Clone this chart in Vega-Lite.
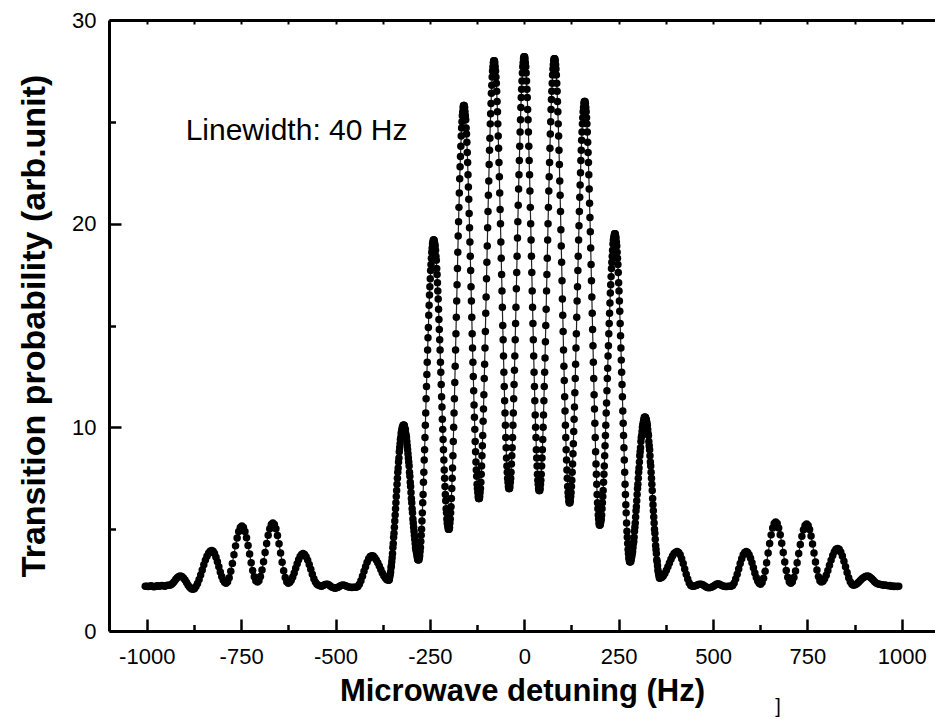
{
"$schema":"https://vega.github.io/schema/vega-lite/v6.json",
"width":826,"height":611,
"autosize":{"type":"none"},
"padding":{"left":109,"top":20,"right":0,"bottom":89},
"background":"white",
"config":{"view":{"stroke":null},"axis":{"grid":false,"domainColor":"black","tickColor":"black","labelColor":"black","titleColor":"black","labelFont":"Liberation Sans","titleFont":"Liberation Sans"}},
"data":{"values":[
{"x":-1004,"y":2.2},{"x":-1000,"y":2.2},{"x":-996,"y":2.18},{"x":-992,"y":2.2},{"x":-988,"y":2.22},{"x":-984,"y":2.19},{"x":-980,"y":2.17},{"x":-976,"y":2.2},{"x":-972,"y":2.22},{"x":-968,"y":2.2},{"x":-964,"y":2.21},{"x":-960,"y":2.24},{"x":-956,"y":2.22},{"x":-952,"y":2.2},{"x":-948,"y":2.23},{"x":-944,"y":2.25},
{"x":-940,"y":2.25},{"x":-935.9,"y":2.27},{"x":-931.7,"y":2.33},{"x":-927.6,"y":2.42},{"x":-923.4,"y":2.53},{"x":-919.3,"y":2.62},{"x":-915.1,"y":2.68},{"x":-911,"y":2.7},
{"x":-906.9,"y":2.68},{"x":-902.8,"y":2.6},{"x":-898.6,"y":2.5},{"x":-894.5,"y":2.38},{"x":-890.4,"y":2.25},{"x":-886.3,"y":2.15},{"x":-882.1,"y":2.08},{"x":-878,"y":2.05},
{"x":-873.8,"y":2.08},{"x":-869.7,"y":2.18},{"x":-865.5,"y":2.33},{"x":-861.3,"y":2.53},{"x":-857.2,"y":2.75},{"x":-853,"y":3.0},{"x":-848.8,"y":3.25},{"x":-844.7,"y":3.48},{"x":-840.5,"y":3.67},{"x":-836.3,"y":3.82},{"x":-832.2,"y":3.92},{"x":-828,"y":3.95},
{"x":-824.2,"y":3.91},{"x":-820.4,"y":3.8},{"x":-816.6,"y":3.62},{"x":-812.8,"y":3.4},{"x":-809,"y":3.15},{"x":-805.2,"y":2.9},{"x":-801.4,"y":2.68},{"x":-797.6,"y":2.5},{"x":-793.8,"y":2.39},{"x":-790,"y":2.35},
{"x":-785.8,"y":2.42},{"x":-781.6,"y":2.62},{"x":-777.4,"y":2.93},{"x":-773.2,"y":3.32},{"x":-769,"y":3.75},{"x":-764.8,"y":4.18},{"x":-760.6,"y":4.57},{"x":-756.4,"y":4.88},{"x":-752.2,"y":5.08},{"x":-748,"y":5.15},
{"x":-743.9,"y":5.08},{"x":-739.8,"y":4.89},{"x":-735.7,"y":4.58},{"x":-731.6,"y":4.2},{"x":-727.5,"y":3.78},{"x":-723.4,"y":3.35},{"x":-719.3,"y":2.97},{"x":-715.2,"y":2.66},{"x":-711.1,"y":2.47},{"x":-707,"y":2.4},
{"x":-702.9,"y":2.47},{"x":-698.8,"y":2.68},{"x":-694.7,"y":3.0},{"x":-690.6,"y":3.4},{"x":-686.5,"y":3.85},{"x":-682.4,"y":4.3},{"x":-678.3,"y":4.7},{"x":-674.2,"y":5.02},{"x":-670.1,"y":5.23},{"x":-666,"y":5.3},
{"x":-661.9,"y":5.23},{"x":-657.8,"y":5.02},{"x":-653.7,"y":4.69},{"x":-649.6,"y":4.28},{"x":-645.5,"y":3.83},{"x":-641.4,"y":3.37},{"x":-637.3,"y":2.96},{"x":-633.2,"y":2.63},{"x":-629.1,"y":2.42},{"x":-625,"y":2.35},
{"x":-621.1,"y":2.39},{"x":-617.2,"y":2.49},{"x":-613.3,"y":2.65},{"x":-609.4,"y":2.85},{"x":-605.5,"y":3.08},{"x":-601.6,"y":3.3},{"x":-597.7,"y":3.5},{"x":-593.8,"y":3.66},{"x":-589.9,"y":3.76},{"x":-586,"y":3.8},
{"x":-581.9,"y":3.76},{"x":-577.8,"y":3.65},{"x":-573.7,"y":3.48},{"x":-569.6,"y":3.26},{"x":-565.5,"y":3.03},{"x":-561.4,"y":2.79},{"x":-557.3,"y":2.57},{"x":-553.2,"y":2.4},{"x":-549.1,"y":2.29},{"x":-545,"y":2.25},
{"x":-541,"y":2.22},{"x":-537,"y":2.2},{"x":-533,"y":2.23},{"x":-529,"y":2.27},{"x":-525,"y":2.3},{"x":-521,"y":2.3},{"x":-517,"y":2.26},{"x":-513,"y":2.2},{"x":-509,"y":2.15},{"x":-505,"y":2.12},{"x":-501,"y":2.1},{"x":-497,"y":2.12},{"x":-493,"y":2.15},{"x":-489,"y":2.2},{"x":-485,"y":2.24},{"x":-481,"y":2.26},{"x":-477,"y":2.25},{"x":-473,"y":2.22},{"x":-469,"y":2.18},{"x":-465,"y":2.16},{"x":-461,"y":2.15},{"x":-457,"y":2.14},{"x":-453,"y":2.15},{"x":-449,"y":2.15},
{"x":-445,"y":2.15},{"x":-440.9,"y":2.19},{"x":-436.8,"y":2.3},{"x":-432.7,"y":2.47},{"x":-428.6,"y":2.69},{"x":-424.5,"y":2.93},{"x":-420.4,"y":3.16},{"x":-416.3,"y":3.38},{"x":-412.2,"y":3.55},{"x":-408.1,"y":3.66},{"x":-404,"y":3.7},
{"x":-400,"y":3.68},{"x":-396,"y":3.6},{"x":-392,"y":3.49},{"x":-388,"y":3.35},{"x":-384,"y":3.19},{"x":-380,"y":3.02},{"x":-376,"y":2.85},{"x":-372,"y":2.71},{"x":-368,"y":2.6},{"x":-364,"y":2.52},
{"x":-360,"y":2.5},{"x":-359,"y":2.5},{"x":-358,"y":2.5},{"x":-357,"y":2.6},{"x":-356,"y":2.7},{"x":-355,"y":2.8},{"x":-354,"y":2.9},{"x":-353,"y":3.1},{"x":-352,"y":3.2},{"x":-351,"y":3.4},{"x":-350,"y":3.6},{"x":-349,"y":3.8},{"x":-348,"y":4.1},{"x":-347,"y":4.3},{"x":-346,"y":4.6},{"x":-345,"y":4.8},{"x":-344,"y":5.1},{"x":-343,"y":5.4},{"x":-342,"y":5.7},{"x":-341,"y":6.0},{"x":-340,"y":6.3},{"x":-339,"y":6.6},{"x":-338,"y":6.9},{"x":-337,"y":7.2},{"x":-336,"y":7.5},{"x":-335,"y":7.8},{"x":-334,"y":8.0},{"x":-333,"y":8.3},{"x":-332,"y":8.5},{"x":-331,"y":8.8},{"x":-330,"y":9.0},{"x":-329,"y":9.2},{"x":-328,"y":9.4},{"x":-327,"y":9.5},{"x":-326,"y":9.7},{"x":-325,"y":9.8},{"x":-324,"y":9.9},{"x":-323,"y":10.0},{"x":-322,"y":10.0},{"x":-321,"y":10.1},{"x":-320,"y":10.1},
{"x":-319,"y":10.1},{"x":-318,"y":10.1},{"x":-317,"y":10.0},{"x":-316,"y":9.9},{"x":-315,"y":9.9},{"x":-314,"y":9.7},{"x":-313,"y":9.6},{"x":-312,"y":9.5},{"x":-311,"y":9.3},{"x":-310,"y":9.1},{"x":-309,"y":8.9},{"x":-308,"y":8.7},{"x":-307,"y":8.5},{"x":-306,"y":8.3},{"x":-305,"y":8.1},{"x":-304,"y":7.8},{"x":-303,"y":7.6},{"x":-302,"y":7.3},{"x":-301,"y":7.1},{"x":-300,"y":6.8},{"x":-299,"y":6.5},{"x":-298,"y":6.3},{"x":-297,"y":6.0},{"x":-296,"y":5.8},{"x":-295,"y":5.5},{"x":-294,"y":5.3},{"x":-293,"y":5.1},{"x":-292,"y":4.9},{"x":-291,"y":4.7},{"x":-290,"y":4.5},{"x":-289,"y":4.3},{"x":-288,"y":4.1},{"x":-287,"y":4.0},{"x":-286,"y":3.9},{"x":-285,"y":3.8},{"x":-284,"y":3.7},{"x":-283,"y":3.6},{"x":-282,"y":3.5},{"x":-281,"y":3.5},{"x":-280,"y":3.5},
{"x":-279,"y":3.5},{"x":-278,"y":3.6},{"x":-277,"y":3.7},{"x":-276,"y":3.9},{"x":-275,"y":4.1},{"x":-274,"y":4.4},{"x":-273,"y":4.7},{"x":-272,"y":5.0},{"x":-271,"y":5.4},{"x":-270,"y":5.8},{"x":-269,"y":6.3},{"x":-268,"y":6.7},{"x":-267,"y":7.3},{"x":-266,"y":7.8},{"x":-265,"y":8.4},{"x":-264,"y":8.9},{"x":-263,"y":9.5},{"x":-262,"y":10.1},{"x":-261,"y":10.7},{"x":-260,"y":11.4},{"x":-259,"y":12.0},{"x":-258,"y":12.6},{"x":-257,"y":13.2},{"x":-256,"y":13.8},{"x":-255,"y":14.4},{"x":-254,"y":14.9},{"x":-253,"y":15.5},{"x":-252,"y":16.0},{"x":-251,"y":16.5},{"x":-250,"y":16.9},{"x":-249,"y":17.3},{"x":-248,"y":17.7},{"x":-247,"y":18.0},{"x":-246,"y":18.3},{"x":-245,"y":18.6},{"x":-244,"y":18.8},{"x":-243,"y":19.0},{"x":-242,"y":19.1},{"x":-241,"y":19.2},{"x":-240,"y":19.2},
{"x":-239,"y":19.2},{"x":-238,"y":19.1},{"x":-237,"y":19.0},{"x":-236,"y":18.9},{"x":-235,"y":18.7},{"x":-234,"y":18.4},{"x":-233,"y":18.2},{"x":-232,"y":17.8},{"x":-231,"y":17.5},{"x":-230,"y":17.1},{"x":-229,"y":16.7},{"x":-228,"y":16.3},{"x":-227,"y":15.8},{"x":-226,"y":15.3},{"x":-225,"y":14.8},{"x":-224,"y":14.3},{"x":-223,"y":13.8},{"x":-222,"y":13.2},{"x":-221,"y":12.7},{"x":-220,"y":12.1},{"x":-219,"y":11.5},{"x":-218,"y":11.0},{"x":-217,"y":10.4},{"x":-216,"y":9.9},{"x":-215,"y":9.4},{"x":-214,"y":8.9},{"x":-213,"y":8.4},{"x":-212,"y":7.9},{"x":-211,"y":7.5},{"x":-210,"y":7.1},{"x":-209,"y":6.7},{"x":-208,"y":6.4},{"x":-207,"y":6.0},{"x":-206,"y":5.8},{"x":-205,"y":5.5},{"x":-204,"y":5.3},{"x":-203,"y":5.2},{"x":-202,"y":5.1},{"x":-201,"y":5.0},{"x":-200,"y":5.0},
{"x":-199,"y":5.0},{"x":-198,"y":5.1},{"x":-197,"y":5.3},{"x":-196,"y":5.5},{"x":-195,"y":5.8},{"x":-194,"y":6.1},{"x":-193,"y":6.5},{"x":-192,"y":7.0},{"x":-191,"y":7.5},{"x":-190,"y":8.0},{"x":-189,"y":8.6},{"x":-188,"y":9.3},{"x":-187,"y":10.0},{"x":-186,"y":10.7},{"x":-185,"y":11.4},{"x":-184,"y":12.2},{"x":-183,"y":13.0},{"x":-182,"y":13.8},{"x":-181,"y":14.6},{"x":-180,"y":15.4},{"x":-179,"y":16.2},{"x":-178,"y":17.0},{"x":-177,"y":17.8},{"x":-176,"y":18.6},{"x":-175,"y":19.4},{"x":-174,"y":20.1},{"x":-173,"y":20.8},{"x":-172,"y":21.5},{"x":-171,"y":22.2},{"x":-170,"y":22.8},{"x":-169,"y":23.3},{"x":-168,"y":23.8},{"x":-167,"y":24.3},{"x":-166,"y":24.7},{"x":-165,"y":25.0},{"x":-164,"y":25.3},{"x":-163,"y":25.5},{"x":-162,"y":25.7},{"x":-161,"y":25.8},{"x":-160,"y":25.8},
{"x":-159,"y":25.8},{"x":-158,"y":25.7},{"x":-157,"y":25.5},{"x":-156,"y":25.3},{"x":-155,"y":25.1},{"x":-154,"y":24.7},{"x":-153,"y":24.4},{"x":-152,"y":24.0},{"x":-151,"y":23.5},{"x":-150,"y":23.0},{"x":-149,"y":22.4},{"x":-148,"y":21.8},{"x":-147,"y":21.2},{"x":-146,"y":20.5},{"x":-145,"y":19.8},{"x":-144,"y":19.1},{"x":-143,"y":18.4},{"x":-142,"y":17.7},{"x":-141,"y":16.9},{"x":-140,"y":16.2},{"x":-139,"y":15.4},{"x":-138,"y":14.6},{"x":-137,"y":13.9},{"x":-136,"y":13.2},{"x":-135,"y":12.5},{"x":-134,"y":11.8},{"x":-133,"y":11.1},{"x":-132,"y":10.5},{"x":-131,"y":9.9},{"x":-130,"y":9.3},{"x":-129,"y":8.8},{"x":-128,"y":8.3},{"x":-127,"y":7.9},{"x":-126,"y":7.6},{"x":-125,"y":7.2},{"x":-124,"y":7.0},{"x":-123,"y":6.8},{"x":-122,"y":6.6},{"x":-121,"y":6.5},{"x":-120,"y":6.5},
{"x":-119,"y":6.5},{"x":-118,"y":6.6},{"x":-117,"y":6.8},{"x":-116,"y":7.0},{"x":-115,"y":7.3},{"x":-114,"y":7.7},{"x":-113,"y":8.1},{"x":-112,"y":8.6},{"x":-111,"y":9.1},{"x":-110,"y":9.6},{"x":-109,"y":10.3},{"x":-108,"y":10.9},{"x":-107,"y":11.6},{"x":-106,"y":12.4},{"x":-105,"y":13.1},{"x":-104,"y":13.9},{"x":-103,"y":14.7},{"x":-102,"y":15.6},{"x":-101,"y":16.4},{"x":-100,"y":17.3},{"x":-99,"y":18.1},{"x":-98,"y":18.9},{"x":-97,"y":19.8},{"x":-96,"y":20.6},{"x":-95,"y":21.4},{"x":-94,"y":22.1},{"x":-93,"y":22.9},{"x":-92,"y":23.6},{"x":-91,"y":24.2},{"x":-90,"y":24.9},{"x":-89,"y":25.4},{"x":-88,"y":25.9},{"x":-87,"y":26.4},{"x":-86,"y":26.8},{"x":-85,"y":27.2},{"x":-84,"y":27.5},{"x":-83,"y":27.7},{"x":-82,"y":27.9},{"x":-81,"y":28.0},{"x":-80,"y":28.0},
{"x":-79,"y":28.0},{"x":-78,"y":27.9},{"x":-77,"y":27.7},{"x":-76,"y":27.5},{"x":-75,"y":27.2},{"x":-74,"y":26.9},{"x":-73,"y":26.5},{"x":-72,"y":26.0},{"x":-71,"y":25.5},{"x":-70,"y":24.9},{"x":-69,"y":24.3},{"x":-68,"y":23.7},{"x":-67,"y":23.0},{"x":-66,"y":22.3},{"x":-65,"y":21.5},{"x":-64,"y":20.7},{"x":-63,"y":20.0},{"x":-62,"y":19.1},{"x":-61,"y":18.3},{"x":-60,"y":17.5},{"x":-59,"y":16.7},{"x":-58,"y":15.9},{"x":-57,"y":15.0},{"x":-56,"y":14.3},{"x":-55,"y":13.5},{"x":-54,"y":12.7},{"x":-53,"y":12.0},{"x":-52,"y":11.3},{"x":-51,"y":10.7},{"x":-50,"y":10.1},{"x":-49,"y":9.5},{"x":-48,"y":9.0},{"x":-47,"y":8.5},{"x":-46,"y":8.1},{"x":-45,"y":7.8},{"x":-44,"y":7.5},{"x":-43,"y":7.3},{"x":-42,"y":7.1},{"x":-41,"y":7.0},{"x":-40,"y":7.0},
{"x":-39,"y":7.0},{"x":-38,"y":7.1},{"x":-37,"y":7.3},{"x":-36,"y":7.5},{"x":-35,"y":7.8},{"x":-34,"y":8.2},{"x":-33,"y":8.6},{"x":-32,"y":9.0},{"x":-31,"y":9.5},{"x":-30,"y":10.1},{"x":-29,"y":10.7},{"x":-28,"y":11.4},{"x":-27,"y":12.1},{"x":-26,"y":12.8},{"x":-25,"y":13.5},{"x":-24,"y":14.3},{"x":-23,"y":15.1},{"x":-22,"y":15.9},{"x":-21,"y":16.8},{"x":-20,"y":17.6},{"x":-19,"y":18.4},{"x":-18,"y":19.3},{"x":-17,"y":20.1},{"x":-16,"y":20.9},{"x":-15,"y":21.7},{"x":-14,"y":22.4},{"x":-13,"y":23.1},{"x":-12,"y":23.8},{"x":-11,"y":24.5},{"x":-10,"y":25.1},{"x":-9,"y":25.7},{"x":-8,"y":26.2},{"x":-7,"y":26.6},{"x":-6,"y":27.0},{"x":-5,"y":27.4},{"x":-4,"y":27.7},{"x":-3,"y":27.9},{"x":-2,"y":28.1},{"x":-1,"y":28.2},{"x":0,"y":28.2},
{"x":1,"y":28.2},{"x":2,"y":28.1},{"x":3,"y":27.9},{"x":4,"y":27.7},{"x":5,"y":27.4},{"x":6,"y":27.0},{"x":7,"y":26.6},{"x":8,"y":26.2},{"x":9,"y":25.6},{"x":10,"y":25.1},{"x":11,"y":24.5},{"x":12,"y":23.8},{"x":13,"y":23.1},{"x":14,"y":22.4},{"x":15,"y":21.6},{"x":16,"y":20.8},{"x":17,"y":20.0},{"x":18,"y":19.2},{"x":19,"y":18.4},{"x":20,"y":17.6},{"x":21,"y":16.7},{"x":22,"y":15.9},{"x":23,"y":15.1},{"x":24,"y":14.3},{"x":25,"y":13.5},{"x":26,"y":12.7},{"x":27,"y":12.0},{"x":28,"y":11.3},{"x":29,"y":10.6},{"x":30,"y":10.0},{"x":31,"y":9.5},{"x":32,"y":8.9},{"x":33,"y":8.5},{"x":34,"y":8.1},{"x":35,"y":7.7},{"x":36,"y":7.4},{"x":37,"y":7.2},{"x":38,"y":7.0},{"x":39,"y":6.9},{"x":40,"y":6.9},
{"x":41,"y":6.9},{"x":42,"y":7.0},{"x":43,"y":7.2},{"x":44,"y":7.4},{"x":45,"y":7.7},{"x":46,"y":8.1},{"x":47,"y":8.5},{"x":48,"y":8.9},{"x":49,"y":9.4},{"x":50,"y":10.0},{"x":51,"y":10.6},{"x":52,"y":11.3},{"x":53,"y":12.0},{"x":54,"y":12.7},{"x":55,"y":13.4},{"x":56,"y":14.2},{"x":57,"y":15.0},{"x":58,"y":15.8},{"x":59,"y":16.7},{"x":60,"y":17.5},{"x":61,"y":18.3},{"x":62,"y":19.2},{"x":63,"y":20.0},{"x":64,"y":20.8},{"x":65,"y":21.6},{"x":66,"y":22.3},{"x":67,"y":23.0},{"x":68,"y":23.7},{"x":69,"y":24.4},{"x":70,"y":25.0},{"x":71,"y":25.6},{"x":72,"y":26.1},{"x":73,"y":26.5},{"x":74,"y":26.9},{"x":75,"y":27.3},{"x":76,"y":27.6},{"x":77,"y":27.8},{"x":78,"y":28.0},{"x":79,"y":28.1},{"x":80,"y":28.1},
{"x":81,"y":28.1},{"x":82,"y":28.0},{"x":83,"y":27.8},{"x":84,"y":27.6},{"x":85,"y":27.3},{"x":86,"y":26.9},{"x":87,"y":26.5},{"x":88,"y":26.0},{"x":89,"y":25.5},{"x":90,"y":24.9},{"x":91,"y":24.3},{"x":92,"y":23.6},{"x":93,"y":22.9},{"x":94,"y":22.1},{"x":95,"y":21.4},{"x":96,"y":20.6},{"x":97,"y":19.7},{"x":98,"y":18.9},{"x":99,"y":18.1},{"x":100,"y":17.2},{"x":101,"y":16.3},{"x":102,"y":15.5},{"x":103,"y":14.7},{"x":104,"y":13.8},{"x":105,"y":13.0},{"x":106,"y":12.3},{"x":107,"y":11.5},{"x":108,"y":10.8},{"x":109,"y":10.1},{"x":110,"y":9.5},{"x":111,"y":8.9},{"x":112,"y":8.4},{"x":113,"y":7.9},{"x":114,"y":7.5},{"x":115,"y":7.1},{"x":116,"y":6.8},{"x":117,"y":6.6},{"x":118,"y":6.4},{"x":119,"y":6.3},{"x":120,"y":6.3},
{"x":121,"y":6.3},{"x":122,"y":6.4},{"x":123,"y":6.6},{"x":124,"y":6.8},{"x":125,"y":7.1},{"x":126,"y":7.4},{"x":127,"y":7.8},{"x":128,"y":8.2},{"x":129,"y":8.7},{"x":130,"y":9.2},{"x":131,"y":9.8},{"x":132,"y":10.4},{"x":133,"y":11.0},{"x":134,"y":11.7},{"x":135,"y":12.4},{"x":136,"y":13.1},{"x":137,"y":13.9},{"x":138,"y":14.6},{"x":139,"y":15.4},{"x":140,"y":16.2},{"x":141,"y":16.9},{"x":142,"y":17.7},{"x":143,"y":18.4},{"x":144,"y":19.2},{"x":145,"y":19.9},{"x":146,"y":20.6},{"x":147,"y":21.3},{"x":148,"y":21.9},{"x":149,"y":22.5},{"x":150,"y":23.1},{"x":151,"y":23.6},{"x":152,"y":24.1},{"x":153,"y":24.5},{"x":154,"y":24.9},{"x":155,"y":25.2},{"x":156,"y":25.5},{"x":157,"y":25.7},{"x":158,"y":25.9},{"x":159,"y":26.0},{"x":160,"y":26.0},
{"x":161,"y":26.0},{"x":162,"y":25.9},{"x":163,"y":25.7},{"x":164,"y":25.5},{"x":165,"y":25.2},{"x":166,"y":24.9},{"x":167,"y":24.5},{"x":168,"y":24.0},{"x":169,"y":23.5},{"x":170,"y":23.0},{"x":171,"y":22.4},{"x":172,"y":21.7},{"x":173,"y":21.0},{"x":174,"y":20.3},{"x":175,"y":19.6},{"x":176,"y":18.8},{"x":177,"y":18.0},{"x":178,"y":17.2},{"x":179,"y":16.4},{"x":180,"y":15.6},{"x":181,"y":14.8},{"x":182,"y":14.0},{"x":183,"y":13.2},{"x":184,"y":12.4},{"x":185,"y":11.6},{"x":186,"y":10.9},{"x":187,"y":10.2},{"x":188,"y":9.5},{"x":189,"y":8.8},{"x":190,"y":8.2},{"x":191,"y":7.7},{"x":192,"y":7.2},{"x":193,"y":6.7},{"x":194,"y":6.3},{"x":195,"y":6.0},{"x":196,"y":5.7},{"x":197,"y":5.5},{"x":198,"y":5.3},{"x":199,"y":5.2},{"x":200,"y":5.2},
{"x":201,"y":5.2},{"x":202,"y":5.3},{"x":203,"y":5.4},{"x":204,"y":5.5},{"x":205,"y":5.7},{"x":206,"y":6.0},{"x":207,"y":6.3},{"x":208,"y":6.6},{"x":209,"y":6.9},{"x":210,"y":7.3},{"x":211,"y":7.7},{"x":212,"y":8.1},{"x":213,"y":8.6},{"x":214,"y":9.1},{"x":215,"y":9.6},{"x":216,"y":10.1},{"x":217,"y":10.7},{"x":218,"y":11.2},{"x":219,"y":11.8},{"x":220,"y":12.4},{"x":221,"y":12.9},{"x":222,"y":13.5},{"x":223,"y":14.0},{"x":224,"y":14.6},{"x":225,"y":15.1},{"x":226,"y":15.6},{"x":227,"y":16.1},{"x":228,"y":16.6},{"x":229,"y":17.0},{"x":230,"y":17.4},{"x":231,"y":17.8},{"x":232,"y":18.1},{"x":233,"y":18.4},{"x":234,"y":18.7},{"x":235,"y":19.0},{"x":236,"y":19.2},{"x":237,"y":19.3},{"x":238,"y":19.4},{"x":239,"y":19.5},{"x":240,"y":19.5},
{"x":241,"y":19.5},{"x":242,"y":19.4},{"x":243,"y":19.3},{"x":244,"y":19.1},{"x":245,"y":18.9},{"x":246,"y":18.6},{"x":247,"y":18.3},{"x":248,"y":18.0},{"x":249,"y":17.6},{"x":250,"y":17.1},{"x":251,"y":16.7},{"x":252,"y":16.2},{"x":253,"y":15.7},{"x":254,"y":15.1},{"x":255,"y":14.5},{"x":256,"y":13.9},{"x":257,"y":13.3},{"x":258,"y":12.7},{"x":259,"y":12.1},{"x":260,"y":11.5},{"x":261,"y":10.8},{"x":262,"y":10.2},{"x":263,"y":9.6},{"x":264,"y":9.0},{"x":265,"y":8.4},{"x":266,"y":7.8},{"x":267,"y":7.2},{"x":268,"y":6.7},{"x":269,"y":6.2},{"x":270,"y":5.8},{"x":271,"y":5.3},{"x":272,"y":4.9},{"x":273,"y":4.6},{"x":274,"y":4.3},{"x":275,"y":4.0},{"x":276,"y":3.8},{"x":277,"y":3.6},{"x":278,"y":3.5},{"x":279,"y":3.4},{"x":280,"y":3.4},
{"x":281,"y":3.4},{"x":282,"y":3.4},{"x":283,"y":3.5},{"x":284,"y":3.6},{"x":285,"y":3.7},{"x":286,"y":3.8},{"x":287,"y":3.9},{"x":288,"y":4.1},{"x":289,"y":4.3},{"x":290,"y":4.4},{"x":291,"y":4.6},{"x":292,"y":4.9},{"x":293,"y":5.1},{"x":294,"y":5.3},{"x":295,"y":5.6},{"x":296,"y":5.9},{"x":297,"y":6.1},{"x":298,"y":6.4},{"x":299,"y":6.7},{"x":300,"y":7.0},{"x":301,"y":7.2},{"x":302,"y":7.5},{"x":303,"y":7.8},{"x":304,"y":8.0},{"x":305,"y":8.3},{"x":306,"y":8.6},{"x":307,"y":8.8},{"x":308,"y":9.0},{"x":309,"y":9.3},{"x":310,"y":9.5},{"x":311,"y":9.6},{"x":312,"y":9.8},{"x":313,"y":10.0},{"x":314,"y":10.1},{"x":315,"y":10.2},{"x":316,"y":10.3},{"x":317,"y":10.4},{"x":318,"y":10.5},{"x":319,"y":10.5},{"x":320,"y":10.5},
{"x":321,"y":10.5},{"x":322,"y":10.4},{"x":323,"y":10.4},{"x":324,"y":10.3},{"x":325,"y":10.2},{"x":326,"y":10.1},{"x":327,"y":9.9},{"x":328,"y":9.7},{"x":329,"y":9.6},{"x":330,"y":9.3},{"x":331,"y":9.1},{"x":332,"y":8.9},{"x":333,"y":8.6},{"x":334,"y":8.3},{"x":335,"y":8.1},{"x":336,"y":7.8},{"x":337,"y":7.5},{"x":338,"y":7.2},{"x":339,"y":6.9},{"x":340,"y":6.5},{"x":341,"y":6.2},{"x":342,"y":5.9},{"x":343,"y":5.6},{"x":344,"y":5.3},{"x":345,"y":5.0},{"x":346,"y":4.8},{"x":347,"y":4.5},{"x":348,"y":4.2},{"x":349,"y":4.0},{"x":350,"y":3.8},{"x":351,"y":3.5},{"x":352,"y":3.4},{"x":353,"y":3.2},{"x":354,"y":3.0},{"x":355,"y":2.9},{"x":356,"y":2.8},{"x":357,"y":2.7},{"x":358,"y":2.6},{"x":359,"y":2.6},{"x":360,"y":2.6},
{"x":364.1,"y":2.63},{"x":368.2,"y":2.7},{"x":372.3,"y":2.82},{"x":376.4,"y":2.98},{"x":380.5,"y":3.16},{"x":384.5,"y":3.34},{"x":388.6,"y":3.52},{"x":392.7,"y":3.68},{"x":396.8,"y":3.8},{"x":400.9,"y":3.87},{"x":405,"y":3.9},
{"x":409,"y":3.86},{"x":413,"y":3.74},{"x":417,"y":3.55},{"x":421,"y":3.31},{"x":425,"y":3.05},{"x":429,"y":2.79},{"x":433,"y":2.55},{"x":437,"y":2.36},{"x":441,"y":2.24},{"x":445,"y":2.2},
{"x":449,"y":2.2},{"x":453,"y":2.22},{"x":457,"y":2.25},{"x":461,"y":2.28},{"x":465,"y":2.3},{"x":469,"y":2.3},{"x":473,"y":2.27},{"x":477,"y":2.22},{"x":481,"y":2.17},{"x":485,"y":2.14},{"x":489,"y":2.12},{"x":493,"y":2.13},{"x":497,"y":2.16},{"x":501,"y":2.2},{"x":505,"y":2.25},{"x":509,"y":2.3},{"x":513,"y":2.32},{"x":517,"y":2.3},{"x":521,"y":2.26},{"x":525,"y":2.22},{"x":529,"y":2.2},{"x":533,"y":2.18},{"x":537,"y":2.19},{"x":541,"y":2.2},{"x":545,"y":2.2},
{"x":548,"y":2.2},{"x":552,"y":2.24},{"x":556,"y":2.36},{"x":560,"y":2.55},{"x":564,"y":2.79},{"x":568,"y":3.05},{"x":572,"y":3.31},{"x":576,"y":3.55},{"x":580,"y":3.74},{"x":584,"y":3.86},{"x":588,"y":3.9},
{"x":591.8,"y":3.86},{"x":595.6,"y":3.75},{"x":599.4,"y":3.57},{"x":603.2,"y":3.35},{"x":607,"y":3.1},{"x":610.8,"y":2.85},{"x":614.6,"y":2.63},{"x":618.4,"y":2.45},{"x":622.2,"y":2.34},{"x":626,"y":2.3},
{"x":630,"y":2.38},{"x":634,"y":2.59},{"x":638,"y":2.93},{"x":642,"y":3.35},{"x":646,"y":3.83},{"x":650,"y":4.3},{"x":654,"y":4.72},{"x":658,"y":5.06},{"x":662,"y":5.28},{"x":666,"y":5.35},
{"x":670,"y":5.28},{"x":674,"y":5.06},{"x":678,"y":4.73},{"x":682,"y":4.31},{"x":686,"y":3.85},{"x":690,"y":3.39},{"x":694,"y":2.97},{"x":698,"y":2.64},{"x":702,"y":2.42},{"x":706,"y":2.35},
{"x":710.2,"y":2.42},{"x":714.4,"y":2.63},{"x":718.6,"y":2.95},{"x":722.8,"y":3.35},{"x":727,"y":3.8},{"x":731.2,"y":4.25},{"x":735.4,"y":4.65},{"x":739.6,"y":4.97},{"x":743.8,"y":5.18},{"x":748,"y":5.25},
{"x":751.9,"y":5.18},{"x":755.8,"y":4.98},{"x":759.7,"y":4.66},{"x":763.6,"y":4.27},{"x":767.5,"y":3.83},{"x":771.4,"y":3.39},{"x":775.3,"y":2.99},{"x":779.2,"y":2.67},{"x":783.1,"y":2.47},{"x":787,"y":2.4},
{"x":791.3,"y":2.44},{"x":795.6,"y":2.56},{"x":799.9,"y":2.74},{"x":804.2,"y":2.97},{"x":808.5,"y":3.23},{"x":812.8,"y":3.48},{"x":817.1,"y":3.71},{"x":821.4,"y":3.89},{"x":825.7,"y":4.01},{"x":830,"y":4.05},
{"x":834.2,"y":4.01},{"x":838.4,"y":3.88},{"x":842.6,"y":3.68},{"x":846.8,"y":3.43},{"x":851,"y":3.15},{"x":855.2,"y":2.87},{"x":859.4,"y":2.62},{"x":863.6,"y":2.42},{"x":867.8,"y":2.29},{"x":872,"y":2.25},
{"x":876.5,"y":2.27},{"x":881,"y":2.32},{"x":885.5,"y":2.39},{"x":890,"y":2.48},{"x":894.5,"y":2.56},{"x":899,"y":2.63},{"x":903.5,"y":2.68},{"x":908,"y":2.7},
{"x":912,"y":2.69},{"x":916,"y":2.64},{"x":920,"y":2.58},{"x":924,"y":2.5},{"x":928,"y":2.42},{"x":932,"y":2.36},{"x":936,"y":2.32},{"x":940,"y":2.3},
{"x":944,"y":2.28},{"x":948,"y":2.27},{"x":952,"y":2.25},{"x":956,"y":2.26},{"x":960,"y":2.24},{"x":964,"y":2.22},{"x":968,"y":2.23},{"x":972,"y":2.2},{"x":976,"y":2.21},{"x":980,"y":2.19},{"x":984,"y":2.2},{"x":988,"y":2.18},{"x":992,"y":2.2}
]},
"layer":[
{"mark":{"type":"line","color":"#222222","strokeWidth":1.2},
 "encoding":{
  "x":{"field":"x","type":"quantitative","scale":{"domain":[-1100,1088],"nice":false,"zero":false},
   "axis":{"orient":"bottom","values":[-1000,-750,-500,-250,0,250,500,750,1000],"labelExpr":"datum.value + ''","tickSize":-12,"tickWidth":2.5,"domainWidth":3,"labelFontSize":22,"labelPadding":27,"title":"Microwave detuning (Hz)","titleFontSize":31,"titleFontWeight":"bold","titlePadding":9}},
  "y":{"field":"y","type":"quantitative","scale":{"domain":[0,30],"nice":false,"zero":false},
   "axis":{"orient":"left","values":[0,10,20,30],"labelExpr":"datum.value + ''","tickSize":-12,"tickWidth":2.5,"domainWidth":3,"labelFontSize":22,"labelPadding":25,"title":"Transition probability (arb.unit)","titleFontSize":34,"titleFontWeight":"bold","titlePadding":20}}
 }},
{"mark":{"type":"circle","color":"black","size":56,"opacity":1},
 "encoding":{
  "x":{"field":"x","type":"quantitative","scale":{"domain":[-1100,1088],"nice":false,"zero":false},
   "axis":{"orient":"bottom","values":[-875,-625,-375,-125,125,375,625,875],"tickSize":-6.5,"tickWidth":2.5,"labels":false,"domain":false,"title":null}},
  "y":{"field":"y","type":"quantitative","scale":{"domain":[0,30],"nice":false,"zero":false},
   "axis":{"orient":"left","values":[5,15,25],"tickSize":-6.5,"tickWidth":2.5,"labels":false,"domain":false,"title":null}}
 }},
{"data":{"values":[{"t":"Linewidth: 40 Hz","x":-897,"y":24.1}]},
 "mark":{"type":"text","align":"left","baseline":"alphabetic","fontSize":30,"font":"Liberation Sans","color":"black"},
 "encoding":{
  "x":{"field":"x","type":"quantitative","scale":{"domain":[-1100,1088],"nice":false,"zero":false},
   "axis":{"orient":"top","values":[-1000,-875,-750,-625,-500,-375,-250,-125,0,125,250,375,500,625,750,875,1000],"tickSize":-4,"tickWidth":2,"labels":false,"domainWidth":3,"title":null}},
  "y":{"field":"y","type":"quantitative","scale":{"domain":[0,30],"nice":false,"zero":false},"axis":null},
  "text":{"field":"t","type":"nominal"}
 }},
{"data":{"values":[{"t":"]","x":672,"y":-4.05}]},
 "mark":{"type":"text","align":"center","baseline":"alphabetic","fontSize":20,"font":"Liberation Sans","color":"black"},
 "encoding":{
  "x":{"field":"x","type":"quantitative","scale":{"domain":[-1100,1088],"nice":false,"zero":false},"axis":null},
  "y":{"field":"y","type":"quantitative","scale":{"domain":[0,30],"nice":false,"zero":false},"axis":null},
  "text":{"field":"t","type":"nominal"}
 }}
],
"resolve":{"axis":{"x":"independent","y":"independent"}}
}
